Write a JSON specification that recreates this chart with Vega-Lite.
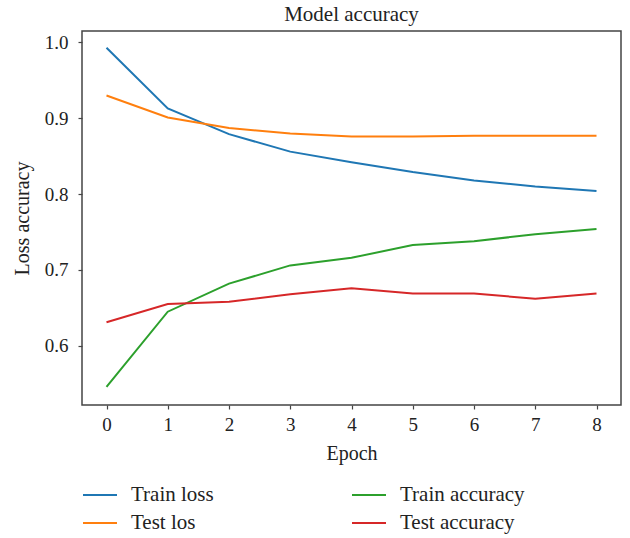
{
  "$schema": "https://vega.github.io/schema/vega-lite/v6.json",
  "autosize": {"type": "none"},
  "padding": {"left": 82, "top": 31, "right": 9, "bottom": 133},
  "width": 539,
  "height": 374,
  "background": "white",
  "title": {"text": "Model accuracy", "font": "Liberation Serif", "fontSize": 21, "fontWeight": "normal", "color": "#222", "offset": 6},
  "config": {
    "view": {"stroke": "#444", "strokeWidth": 1.5},
    "axis": {"labelFont": "Liberation Serif", "titleFont": "Liberation Serif", "labelFontSize": 19, "titleFontSize": 20, "titleFontWeight": "normal", "labelColor": "#222", "titleColor": "#222", "tickColor": "#444", "tickSize": 4, "tickWidth": 1.2, "domain": false, "grid": false}
  },
  "data": {"values": [
    {"epoch": 0, "value": 0.993, "series": "Train loss"},
    {"epoch": 1, "value": 0.913, "series": "Train loss"},
    {"epoch": 2, "value": 0.879, "series": "Train loss"},
    {"epoch": 3, "value": 0.856, "series": "Train loss"},
    {"epoch": 4, "value": 0.842, "series": "Train loss"},
    {"epoch": 5, "value": 0.829, "series": "Train loss"},
    {"epoch": 6, "value": 0.818, "series": "Train loss"},
    {"epoch": 7, "value": 0.810, "series": "Train loss"},
    {"epoch": 8, "value": 0.804, "series": "Train loss"},
    {"epoch": 0, "value": 0.930, "series": "Test los"},
    {"epoch": 1, "value": 0.901, "series": "Test los"},
    {"epoch": 2, "value": 0.887, "series": "Test los"},
    {"epoch": 3, "value": 0.880, "series": "Test los"},
    {"epoch": 4, "value": 0.876, "series": "Test los"},
    {"epoch": 5, "value": 0.876, "series": "Test los"},
    {"epoch": 6, "value": 0.877, "series": "Test los"},
    {"epoch": 7, "value": 0.877, "series": "Test los"},
    {"epoch": 8, "value": 0.877, "series": "Test los"},
    {"epoch": 0, "value": 0.546, "series": "Train accuracy"},
    {"epoch": 1, "value": 0.645, "series": "Train accuracy"},
    {"epoch": 2, "value": 0.682, "series": "Train accuracy"},
    {"epoch": 3, "value": 0.706, "series": "Train accuracy"},
    {"epoch": 4, "value": 0.716, "series": "Train accuracy"},
    {"epoch": 5, "value": 0.733, "series": "Train accuracy"},
    {"epoch": 6, "value": 0.738, "series": "Train accuracy"},
    {"epoch": 7, "value": 0.747, "series": "Train accuracy"},
    {"epoch": 8, "value": 0.754, "series": "Train accuracy"},
    {"epoch": 0, "value": 0.631, "series": "Test accuracy"},
    {"epoch": 1, "value": 0.655, "series": "Test accuracy"},
    {"epoch": 2, "value": 0.658, "series": "Test accuracy"},
    {"epoch": 3, "value": 0.668, "series": "Test accuracy"},
    {"epoch": 4, "value": 0.676, "series": "Test accuracy"},
    {"epoch": 5, "value": 0.669, "series": "Test accuracy"},
    {"epoch": 6, "value": 0.669, "series": "Test accuracy"},
    {"epoch": 7, "value": 0.662, "series": "Test accuracy"},
    {"epoch": 8, "value": 0.669, "series": "Test accuracy"}
  ]},
  "mark": {"type": "line", "strokeWidth": 2},
  "encoding": {
    "x": {"field": "epoch", "type": "quantitative", "title": "Epoch",
      "scale": {"domain": [-0.4, 8.4], "nice": false, "zero": false},
      "axis": {"values": [0,1,2,3,4,5,6,7,8], "format": "d", "labelPadding": 6, "titlePadding": 9}},
    "y": {"field": "value", "type": "quantitative", "title": "Loss accuracy",
      "scale": {"domain": [0.522, 1.015], "nice": false, "zero": false},
      "axis": {"values": [0.6, 0.7, 0.8, 0.9, 1.0], "format": ".1f", "labelPadding": 10, "titlePadding": 12}},
    "color": {"field": "series", "type": "nominal",
      "scale": {"domain": ["Train loss", "Test los", "Train accuracy", "Test accuracy"], "range": ["#1f77b4", "#ff7f0e", "#2ca02c", "#d62728"]},
      "legend": {"title": null, "orient": "none", "legendX": 0, "legendY": 446, "columns": 2, "columnPadding": 134, "rowPadding": -6,
        "symbolType": "stroke", "symbolSize": 1156, "symbolStrokeWidth": 2, "labelFont": "Liberation Serif", "labelFontSize": 21, "labelColor": "#222", "labelOffset": 13, "labelLimit": 300}}
  }
}
